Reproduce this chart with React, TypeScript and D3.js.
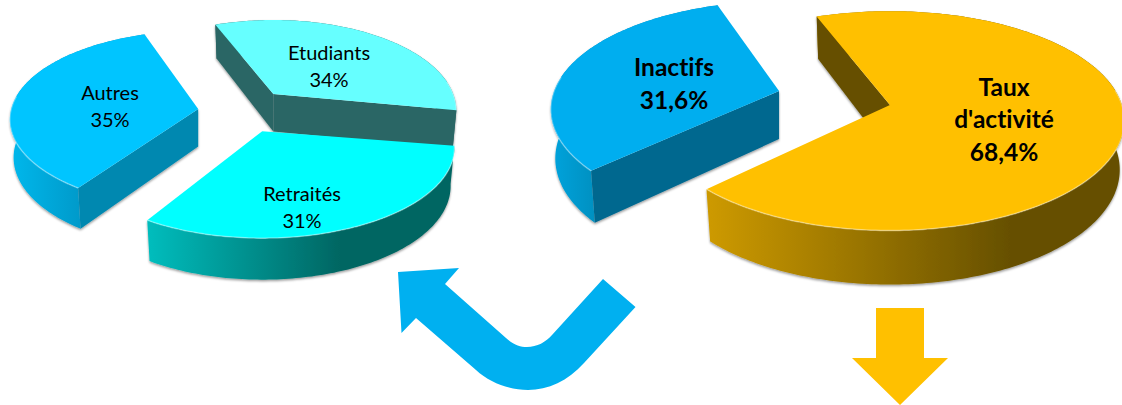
import React from "react";
import * as d3 from "d3";

// ---- data ----
const leftNames = ["Etudiants", "Retraités", "Autres"];
const leftValues = [34, 31, 35];
const leftLabels = ["34%", "31%", "35%"];
const rightNames = ["Taux d'activité", "Inactifs"];
const rightValues = [68.4, 31.6];
const rightLabels = ["68,4%", "31,6%"];

// ---- styles / layout ----
const leftStyle = [
  { top: "#66FFFF", wall: "#2B6665", rim: ["#2B6665", "#2B6665"], gx: [273, 457] },
  { top: "#00FFFF", wall: "#006662", rim: ["#00BDBD", "#006662"], gx: [148, 340] },
  { top: "#00C5FF", wall: "#0088B0", rim: ["#00B8EC", "#0098C8"], gx: [10, 85] },
];
const rightStyle = [
  { top: "#FFC000", wall: "#665000", rim: ["#CC9900", "#665000"], gx: [711, 1010] },
  { top: "#00AEEF", wall: "#00688F", rim: ["#00A4DE", "#0090C0"], gx: [549, 596] },
];
const leftLayout = {
  id: "l", cx: 244, cy: 111, rx: 185, ry: 87.5, k: 0.182, ex: 46, ey: 22, depth: 37.5, depthTilt: 4, start: -21.6,
  size: 20, weight: 400, lh: 27,
  labelAt: [[329, 68], [302, 209], [110, 108]],
  tweak: [{ rx: 180, rotate: -0.5 }, { rx: 189, rotate: -1.5 }, { rx: 187, k: 0.12, rotate: 3 }],
};
const rightLayout = {
  id: "r", cx: 834.5, cy: 98, rx: 232, ry: 107.4, k: 0.145, ex: 56.7, ey: 33, depth: 48, depthTilt: 6, start: -21,
  size: 24.5, weight: 700, lh: 32.5,
  labelAt: [[1004, 122], [674, 86]],
  tweak: [{}, { rx: 225, ry: 105, k: 0.17, rotate: 2.5 }],
};

const line = d3.line<[number, number]>().x((d) => d[0]).y((d) => d[1]);

function Pie3D({ names, values, labels, styles, layout }: any) {
  const { id, cx, cy, ex, ey, depth, depthTilt, start, size, weight, lh, labelAt, tweak } = layout;
  const startRad = (start * Math.PI) / 180;
  const arcs = d3
    .pie<number>()
    .sort(null)
    .startAngle(startRad)
    .endAngle(startRad + 2 * Math.PI)(values);

  const slices = arcs.map((a, i) => {
    const t = tweak[i];
    const rx = t.rx ?? layout.rx;
    const ry = t.ry ?? layout.ry;
    const k = t.k ?? layout.k;
    const rot = ((t.rotate ?? 0) * Math.PI) / 180;
    const xs = d3.scaleLinear().domain([-1, 1]).range([-rx, rx]);
    const ys = d3.scaleLinear().domain([-1, 1]).range([ry, -ry]);
    const a0 = a.startAngle + rot;
    const a1 = a.endAngle + rot;
    const mid = (a.startAngle + a.endAngle) / 2;
    const ax = cx + ex * Math.sin(mid);
    const ay = cy - ey * Math.cos(mid);
    const pt = (th: number, r: number, down = false): [number, number] => {
      const u = Math.sin(th) * r;
      const v = Math.cos(th) * r;
      const w = 1 / (1 + k * v);
      const dx = xs(u * w);
      return [ax + (down ? dx * 0.98 : dx), ay + ys(v * w) + (down ? depth - depthTilt * v : 0)];
    };
    const angles = d3.range(a0, a1, Math.PI / 180).concat(a1);
    const rimTop = angles.map((th) => pt(th, 1));
    const rimBottom = angles.map((th) => pt(th, 1, true));
    const topFace = [pt(0, 0), ...rimTop];
    const outerWall = [...rimTop, ...rimBottom.slice().reverse()];
    const wallAt = (th: number) => [pt(th, 0), pt(th, 1), pt(th, 1, true), pt(th, 0, true)] as [number, number][];
    const walls: [number, number][][] = [];
    if (Math.sin(a0) < 0) walls.push(wallAt(a0));
    if (Math.sin(a1) > 0) walls.push(wallAt(a1));
    const frontRim = angles.filter((th) => Math.cos(th) < 0.15).map((th) => pt(th, 1));
    return { i, mid, topFace, outerWall, walls, frontRim };
  });
  const ordered = slices.slice().sort((p, q) => Math.cos(q.mid) - Math.cos(p.mid));

  return (
    <g>
      <defs>
        {styles.map((s: any, i: number) => (
          <linearGradient key={i} id={`${id}g${i}`} gradientUnits="userSpaceOnUse" x1={s.gx[0]} x2={s.gx[1]} y1={0} y2={0}>
            <stop offset="0" stopColor={s.rim[0]} />
            <stop offset="1" stopColor={s.rim[1]} />
          </linearGradient>
        ))}
      </defs>
      {ordered.map((s) => (
        <g key={s.i}>
          <g filter="url(#shadow)">
            <path d={line(s.outerWall)!} fill={`url(#${id}g${s.i})`} />
            {s.walls.map((w, j) => (
              <path key={j} d={line(w)! + "Z"} fill={styles[s.i].wall} />
            ))}
          </g>
          <path d={line(s.topFace)! + "Z"} fill={styles[s.i].top} />
          <path d={line(s.frontRim)!} fill="none" stroke="#fff" strokeOpacity={0.35} strokeWidth={1.5} filter="url(#soft)" />
        </g>
      ))}
      {slices.map((s) => {
        const parts = [...(names[s.i].includes(" ") ? names[s.i].split(" ") : [names[s.i]]), labels[s.i]];
        const [lx, ly] = labelAt[s.i];
        return (
          <text key={s.i} x={lx} textAnchor="middle" fontFamily="Lato, 'Open Sans', sans-serif" fontSize={size} fontWeight={weight} fill="#000" style={{ fontVariantLigatures: "none" }}>
            {parts.map((p: string, j: number) => (
              <tspan key={j} x={lx} y={ly + (j - (parts.length - 1) / 2) * lh} dominantBaseline="middle">
                {p}
              </tspan>
            ))}
          </text>
        );
      })}
    </g>
  );
}

export default function App() {
  return (
    <svg width={1122} height={405} viewBox="0 0 1122 405" style={{ position: "absolute", left: 0, top: 0, display: "block", background: "#fff" }}>
      <defs>
        <filter id="shadow" x="-10%" y="-10%" width="120%" height="125%">
          <feDropShadow dx="0" dy="1.5" stdDeviation="1.2" floodColor="#000" floodOpacity="0.4" />
        </filter>
        <filter id="soft" x="-10%" y="-10%" width="120%" height="120%">
          <feGaussianBlur stdDeviation="0.7" />
        </filter>
      </defs>
      <Pie3D names={leftNames} values={leftValues} labels={leftLabels} styles={leftStyle} layout={leftLayout} />
      <Pie3D names={rightNames} values={rightValues} labels={rightLabels} styles={rightStyle} layout={rightLayout} />
      <path
        d="M398,272L459,268L445,284L506,338C514,345 520,347 527,347C537,347 546,342 552,335L603,279L635.5,307L584,363C568,381 548,390 528,390C510,390 490,383 476,370L416,318L401.5,333Z"
        fill="#00B0F0"
      />
      <path d="M876,308L924,308L924,358L948,358L900,405L852,358L876,358Z" fill="#FFC000" />
    </svg>
  );
}
